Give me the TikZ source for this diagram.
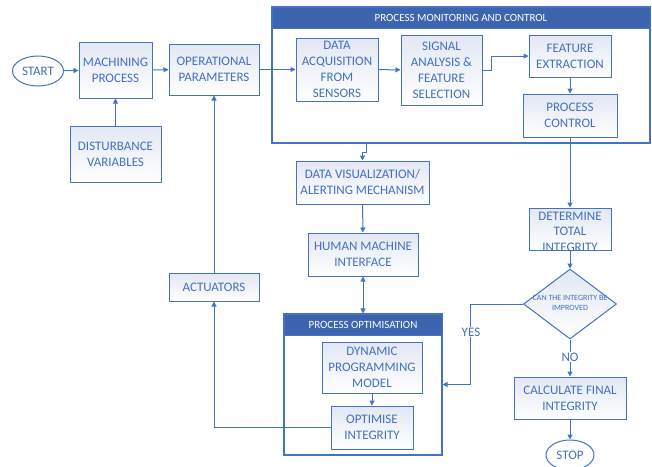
\documentclass[tikz,border=0pt]{standalone}
\usepackage{fontspec}
\setmainfont{Carlito}
\usetikzlibrary{shapes.geometric,arrows.meta}
\definecolor{linec}{HTML}{4472C4}
\definecolor{textc}{HTML}{4470C0}
\definecolor{headc}{HTML}{3D64AF}
\definecolor{boxa}{HTML}{E2E7F3}
\tikzset{
  box/.style={draw=linec, line width=1pt, top color=boxa, bottom color=white,
    text=textc, align=center, inner sep=0pt, font=\fontsize{13}{16}\selectfont},
  term/.style={ellipse, draw=linec, line width=1pt, fill=white, text=textc,
    inner sep=0pt, font=\fontsize{13}{16}\selectfont},
  cont/.style={draw=linec, line width=1.1pt, fill=white, inner sep=0pt},
  head/.style={fill=headc, draw=linec, line width=1pt, text=white, inner sep=0pt,
    font=\fontsize{11}{13}\selectfont},
  conn/.style={draw=linec, line width=1pt},
  arr/.style={conn, -{Triangle[length=5pt,width=5pt]}},
  lbl/.style={fill=white, text=textc, inner sep=1pt, font=\fontsize{13}{16}\selectfont},
}
\begin{document}
\begin{tikzpicture}[x=1pt,y=-1pt]
\useasboundingbox (0,0) rectangle (652,466);
% containers
\node[cont, minimum width=378, minimum height=136] (pmc) at (461,75) {};
\node[head, minimum width=378, minimum height=21] (pmch) at (461,17.5) {PROCESS MONITORING AND CONTROL};
\node[cont, minimum width=158, minimum height=141] (po) at (363,384.5) {};
\node[head, minimum width=158, minimum height=21] (poh) at (363,324.5) {PROCESS OPTIMISATION};
% terminals
\node[term, minimum width=51, minimum height=30] (start) at (38,71) {START};
\node[term, minimum width=48, minimum height=30] (stop) at (570,455) {STOP};
% boxes
\node[box, minimum width=73, minimum height=56] (mach) at (115.5,70) {MACHINING\\PROCESS};
\node[box, minimum width=90, minimum height=51] (op) at (214,69.5) {OPERATIONAL\\PARAMETERS};
\node[box, minimum width=91, minimum height=56] (dist) at (115.5,154) {DISTURBANCE\\VARIABLES};
\node[box, minimum width=82, minimum height=63] (dacq) at (337,69.5) {DATA\\ACQUISITION\\FROM\\SENSORS};
\node[box, minimum width=81, minimum height=70] (sig) at (441.5,70) {SIGNAL\\ANALYSIS \&\\FEATURE\\SELECTION};
\node[box, minimum width=82, minimum height=42] (fe) at (570,56) {FEATURE\\EXTRACTION};
\node[box, minimum width=94, minimum height=43] (pc) at (570,115.5) {PROCESS\\CONTROL};
\node[box, minimum width=133, minimum height=43] (dviz) at (362.5,182.5) {DATA VISUALIZATION/\\ALERTING MECHANISM};
\node[box, minimum width=110, minimum height=43] (hmi) at (363,254.5) {HUMAN MACHINE\\INTERFACE};
\node[box, minimum width=90, minimum height=28] (act) at (214,287) {ACTUATORS};
\node[box, minimum width=82, minimum height=42] (det) at (570,229) {};
\node[text=textc, align=center, font=\fontsize{13}{15.5}\selectfont] (dett) at (570,231.5) {DETERMINE\\TOTAL\\INTEGRITY};
\node[diamond, draw=linec, line width=1pt, top color=boxa, bottom color=white,
  minimum width=93, minimum height=70, inner sep=0pt] (dia) at (570,304) {};
\node[text=textc, align=center, inner sep=0pt, font=\fontsize{8}{10}\selectfont] (diat) at (570,303) {CAN THE INTEGRITY BE\\IMPROVED};
\node[box, minimum width=112, minimum height=42] (calc) at (570,398) {CALCULATE FINAL\\INTEGRITY};
\node[box, minimum width=100, minimum height=51] (dyn) at (372,367.5) {DYNAMIC\\PROGRAMMING\\MODEL};
\node[box, minimum width=82, minimum height=43] (opt) at (372,427.5) {OPTIMISE\\INTEGRITY};
% connectors
\draw[arr] (start) -- (mach);
\draw[arr] (mach) -- (op);
\draw[arr] (dist) -- (mach);
\draw[arr] (op.east) -- (dacq.west);
\draw[arr] (dacq) -- (sig);
\draw[arr] (sig.east) -- ++(9,0) |- (fe.west);
\draw[arr] (fe) -- (pc);
\draw[arr] ([xshift=3.5pt]dviz.north |- pmc.south) -- ++(0,9) -| (dviz.north);
\draw[arr] (pc.south) -- (det.north);
\draw[arr] (det.south) -- (dia.north);
\draw[arr] (dviz) -- (hmi);
\draw[conn, {Triangle[length=5pt,width=5pt]}-{Triangle[length=5pt,width=5pt]}] (hmi.south) -- (po.north);
\draw[arr] (dyn) -- (opt);
\draw[arr] (opt.west) -| (act.south);
\draw[arr] (act) -- (op);
\draw[arr] (dia.west) -- ++(-53,0) |- (po.east);
\node[lbl] (yes) at (471,332) {YES};
\draw[arr] (dia.south) -- (calc.north);
\node[lbl] (no) at (570,357) {NO};
\draw[arr] (calc) -- (stop);
\end{tikzpicture}
\end{document}
